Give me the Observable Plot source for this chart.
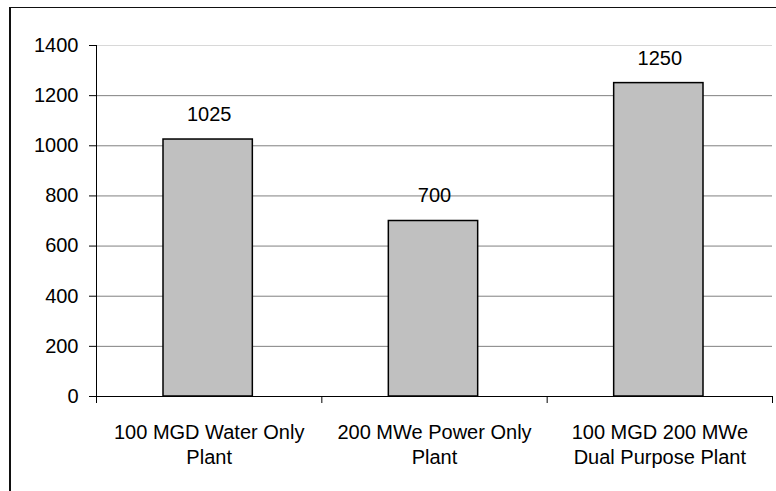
<!DOCTYPE html>
<html>
<head>
<meta charset="utf-8">
<script src="https://cdn.jsdelivr.net/npm/d3@7"></script>
<script src="https://cdn.jsdelivr.net/npm/@observablehq/plot@0.6"></script>
<style>
  html, body { margin: 0; padding: 0; background: #fff; }
  #wrap { position: relative; width: 776px; height: 491px; overflow: hidden; }
  #frame { position: absolute; left: 9px; top: 7px; width: 800px; height: 600px;
           border-left: 2px solid #111; border-top: 1.5px solid #111; pointer-events: none; }
  svg { font-family: "Liberation Sans", Arial, sans-serif; }
</style>
</head>
<body>
<div id="wrap"><div id="frame"></div></div>
<script>
const categories = ["100 MGD Water Only\nPlant", "200 MWe Power Only\nPlant", "100 MGD 200 MWe\nDual Purpose Plant"];
const values = [1025, 700, 1250];
const yTicks = [0, 200, 400, 600, 800, 1000, 1200, 1400];

const data = categories.map((c, i) => ({i, label: c, value: values[i]}));
const boundaries = d3.range(categories.length + 1);

const chart = Plot.plot({
  width: 776,
  height: 491,
  marginLeft: 96,
  marginRight: 4,
  marginTop: 45,
  marginBottom: 95,
  style: {fontFamily: '"Liberation Sans", Arial, sans-serif', fontSize: "20px", color: "#000", background: "transparent"},
  x: {domain: [0, categories.length]},
  y: {domain: [0, 1400]},
  marks: [
    Plot.ruleY(yTicks.filter(d => d > 0 && d < 1400), {stroke: "#808080", strokeWidth: 1}),
    Plot.ruleY(yTicks.filter(d => d === 1400), {stroke: "#d8d8d8", strokeWidth: 1}),
    Plot.rectY(data, {x1: d => d.i, x2: d => d.i + 1, y: "value", insetLeft: 67, insetRight: 69,
      fill: "#c0c0c0", stroke: "#000", strokeWidth: 1.5}),
    Plot.text(data, {x: d => d.i + 0.5, y: "value", text: d => String(d.value), dy: -25,
      lineAnchor: "middle", fontSize: 20, fill: "#000"}),
    Plot.text(data, {x: d => d.i + 0.5, y: 0, text: "label", dy: 25, lineAnchor: "top",
      lineHeight: 1.25, fontSize: 20, fill: "#000"}),
    Plot.ruleX([0], {stroke: "#000"}),
    Plot.ruleY([0], {stroke: "#000"}),
    Plot.axisY({ticks: yTicks, tickFormat: d => String(d), tickSize: 7, tickPadding: 11, label: null, fontSize: 20, stroke: "#000", color: "#000"}),
    Plot.axisX({ticks: boundaries, tickSize: 7, tickFormat: () => "", label: null, stroke: "#000"})
  ]
});
document.getElementById("wrap").prepend(chart);
</script>
</body>
</html>
